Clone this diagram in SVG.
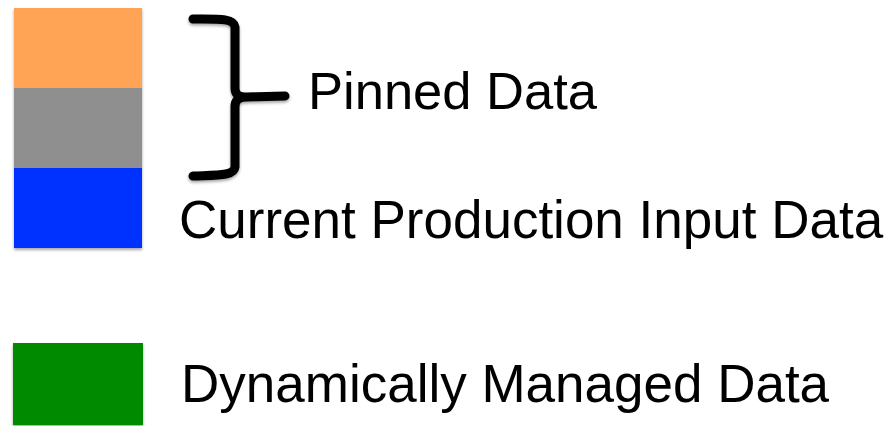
<svg xmlns="http://www.w3.org/2000/svg" width="894" height="426" viewBox="0 0 894 426">
  <style>
    .label { font-family: "Liberation Sans", Arial, sans-serif; font-size: 53px; fill: #000; }
    .brace { fill: none; stroke: #000; stroke-width: 9; stroke-linecap: round; stroke-linejoin: round; }
  </style>
  <defs>
    <filter id="shadow" x="-10%" y="-10%" width="120%" height="120%">
      <feDropShadow dx="0" dy="2" stdDeviation="1.5" flood-color="#000" flood-opacity="0.35"/>
    </filter>
  </defs>
  <rect width="894" height="426" fill="#fff"/>

  <!-- stacked input blocks -->
  <g id="stack" filter="url(#shadow)">
    <rect id="block-pinned-a" x="14" y="8" width="128" height="80" fill="#ffa355"/>
    <rect id="block-pinned-b" x="14" y="88" width="128" height="80" fill="#8f8f8f"/>
    <rect id="block-current" x="14" y="168" width="128" height="80" fill="#0433ff"/>
  </g>

  <!-- dynamically managed block -->
  <g id="dynamic" filter="url(#shadow)">
    <rect x="13" y="343" width="130" height="82" fill="#008a00"/>
  </g>

  <!-- curly brace grouping the pinned blocks -->
  <g id="connectors">
    <path class="brace" filter="url(#shadow)" d="M193 19 C218 19 234 18 235 27 L235 88 C235 95 239 97 247 97 L285 96 M247 97 C239 97 235 100 235 107 L235 167 C234 176 218 175 193 176"/>
  </g>

  <g id="label-pinned"><text class="label" x="308" y="109" style="font-size:52.5px">Pinned Data</text></g>
  <g id="label-current"><text class="label" x="179" y="238">Current Production Input Data</text></g>
  <g id="label-dynamic"><text class="label" x="181" y="402">Dynamically Managed Data</text></g>
</svg>
